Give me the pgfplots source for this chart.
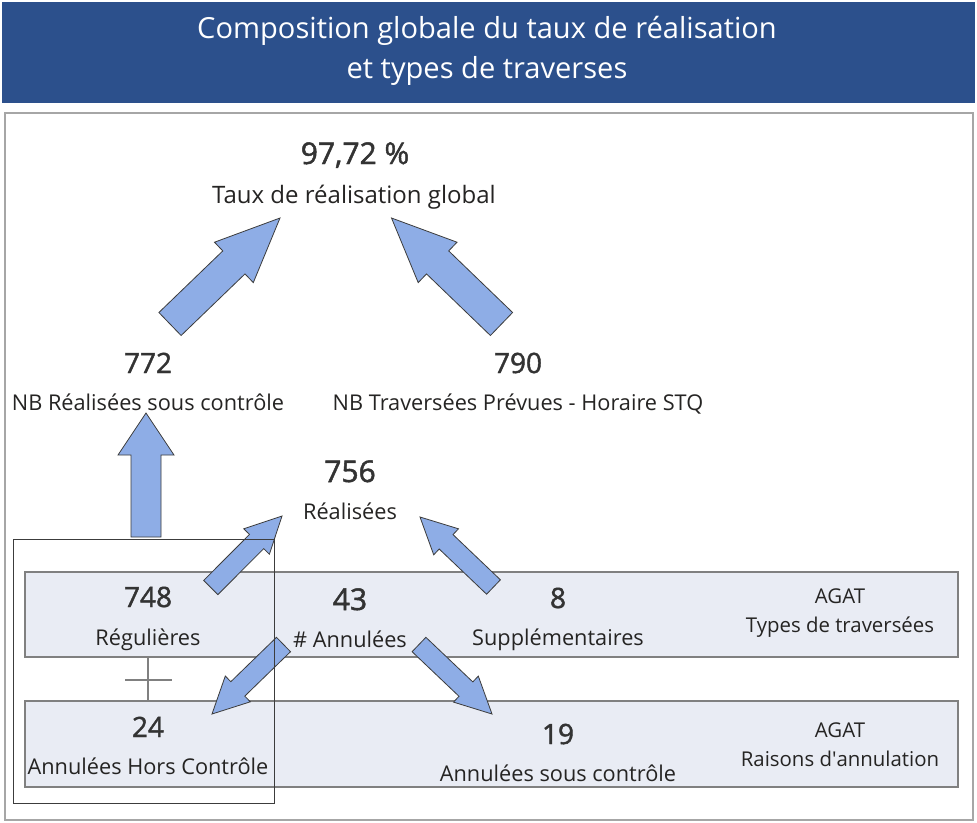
\documentclass[border=0pt]{standalone}
\usepackage{pgfplots}
\pgfplotsset{compat=1.18}
\usepackage{fontspec}
\setmainfont{Open Sans}
\newfontfamily\numfont{Open Sans}[FakeBold=1.6]
\definecolor{titlebg}{RGB}{44,80,140}
\definecolor{arrowfill}{RGB}{142,173,230}
\definecolor{arrowline}{RGB}{60,60,60}
\definecolor{bandfill}{RGB}{233,236,244}
\definecolor{bandline}{RGB}{128,128,128}
\definecolor{txt}{RGB}{37,36,35}
\definecolor{numtxt}{RGB}{51,51,51}
\definecolor{outerline}{RGB}{166,166,166}
\begin{document}
\begin{tikzpicture}
\begin{axis}[
  scale only axis, width=732.75pt, height=616.5pt,
  xmin=0, xmax=977, ymin=0, ymax=822, y dir=reverse,
  axis lines=none, clip=false, no markers,
]
% background to fix bounding box
\addplot[fill=white, draw=none] coordinates {(0,0)(977,0)(977,822)(0,822)} --cycle;
% title bar
\addplot[fill=titlebg, draw=none] coordinates {(2,2)(975,2)(975,103)(2,103)} --cycle;
\node[anchor=base, text=white, font=\fontsize{21.8}{25}\selectfont] at (axis cs:487,38) {Composition globale du taux de réalisation};
\node[anchor=base, text=white, font=\fontsize{21.8}{25}\selectfont] at (axis cs:487,78) {et types de traverses};
% outer box
\addplot[draw=outerline, line width=1.5pt] coordinates {(5,113)(973,113)(973,820)(5,820)} --cycle;
% bands
\addplot[fill=bandfill, draw=bandline, line width=1.2pt] coordinates {(25,572)(958,572)(958,657)(25,657)} --cycle;
\addplot[fill=bandfill, draw=bandline, line width=1.2pt] coordinates {(25,701)(958,701)(958,787)(25,787)} --cycle;
% plus sign
\addplot[draw=bandline, line width=2pt] coordinates {(148,657)(148,701)};
\addplot[draw=bandline, line width=2pt] coordinates {(125,680)(172,680)};
% big arrows
\addplot[fill=arrowfill, draw=arrowline, line width=0.6pt] coordinates {(158.9,312.5)(222.8,250.9)(214.5,242.2)(280,218)(253.3,282.6)(245,273.9)(181.1,335.5)} --cycle;
\addplot[fill=arrowfill, draw=arrowline, line width=0.6pt] coordinates {(512.6,312.5)(448.7,250.9)(457,242.2)(391.5,218)(418.2,282.6)(426.5,273.9)(490.4,335.5)} --cycle;
% vertical arrow
\addplot[fill=arrowfill, draw=arrowline, line width=0.6pt] coordinates {(131,537)(131,455)(118,455)(146,413)(174,455)(161,455)(161,537)} --cycle;
% small arrows
\addplot[fill=arrowfill, draw=arrowline, line width=0.6pt] coordinates {(203.7,580.4)(249.5,534.4)(243.8,528.8)(282,516)(269.4,554.2)(263.7,548.6)(217.9,594.6)} --cycle;
\addplot[fill=arrowfill, draw=arrowline, line width=0.6pt] coordinates {(486.6,594.2)(439.2,549)(433.7,554.8)(420,517)(458.5,528.8)(453,534.6)(500.4,579.8)} --cycle;
\addplot[fill=arrowfill, draw=arrowline, line width=0.6pt] coordinates {(276.5,637.3)(230.8,681.7)(225.3,676)(212,714)(250.3,701.8)(244.8,696.1)(290.5,651.7)} --cycle;
\addplot[fill=arrowfill, draw=arrowline, line width=0.6pt] coordinates {(412.1,651.7)(459,696.3)(453.5,702.1)(492,714)(478.3,676.1)(472.8,681.9)(425.9,637.3)} --cycle;
% thin black rectangle
\addplot[draw=arrowline, line width=0.75pt] coordinates {(13,539)(274,539)(274,803)(13,803)} --cycle;
% texts
\node[anchor=base, text=numtxt, font=\numfont\fontsize{22.5}{26}\selectfont] at (axis cs:355,164) {97,72 \%};
\node[anchor=base, text=txt, font=\fontsize{18}{21}\selectfont] at (axis cs:354,203) {Taux de réalisation global};
\node[anchor=base, text=numtxt, font=\numfont\fontsize{21}{25}\selectfont] at (axis cs:148,373) {772};
\node[anchor=base, text=txt, font=\fontsize{16.3}{19}\selectfont] at (axis cs:148,410) {NB Réalisées sous contrôle};
\node[anchor=base, text=numtxt, font=\numfont\fontsize{21}{25}\selectfont] at (axis cs:518,373) {790};
\node[anchor=base, text=txt, font=\fontsize{16.3}{19}\selectfont] at (axis cs:518,410) {NB Traversées Prévues - Horaire STQ};
\node[anchor=base, text=numtxt, font=\numfont\fontsize{22.5}{26}\selectfont] at (axis cs:350,482) {756};
\node[anchor=base, text=txt, font=\fontsize{16.3}{19}\selectfont] at (axis cs:350,519) {Réalisées};
\node[anchor=base, text=numtxt, font=\numfont\fontsize{21}{25}\selectfont] at (axis cs:148,607) {748};
\node[anchor=base, text=txt, font=\fontsize{16.3}{19}\selectfont] at (axis cs:148,645) {Régulières};
\node[anchor=base, text=numtxt, font=\numfont\fontsize{22.5}{26}\selectfont] at (axis cs:350,610) {43};
\node[anchor=base, text=txt, font=\fontsize{16.3}{19}\selectfont] at (axis cs:350,647) {\# Annulées};
\node[anchor=base, text=numtxt, font=\numfont\fontsize{21}{25}\selectfont] at (axis cs:558,608) {8};
\node[anchor=base, text=txt, font=\fontsize{16.3}{19}\selectfont] at (axis cs:558,645) {Supplémentaires};
\node[anchor=base, text=txt, font=\fontsize{15.3}{18}\selectfont] at (axis cs:840,603) {AGAT};
\node[anchor=base, text=txt, font=\fontsize{15.3}{18}\selectfont] at (axis cs:840,632) {Types de traversées};
\node[anchor=base, text=numtxt, font=\numfont\fontsize{21}{25}\selectfont] at (axis cs:148,737) {24};
\node[anchor=base, text=txt, font=\fontsize{16.3}{19}\selectfont] at (axis cs:148,774) {Annulées Hors Contrôle};
\node[anchor=base, text=numtxt, font=\numfont\fontsize{21}{25}\selectfont] at (axis cs:558,744) {19};
\node[anchor=base, text=txt, font=\fontsize{16.3}{19}\selectfont] at (axis cs:558,781) {Annulées sous contrôle};
\node[anchor=base, text=txt, font=\fontsize{15.3}{18}\selectfont] at (axis cs:840,737) {AGAT};
\node[anchor=base, text=txt, font=\fontsize{15.3}{18}\selectfont] at (axis cs:840,766) {Raisons d\textquotesingle annulation};
\end{axis}
\end{tikzpicture}
\end{document}
